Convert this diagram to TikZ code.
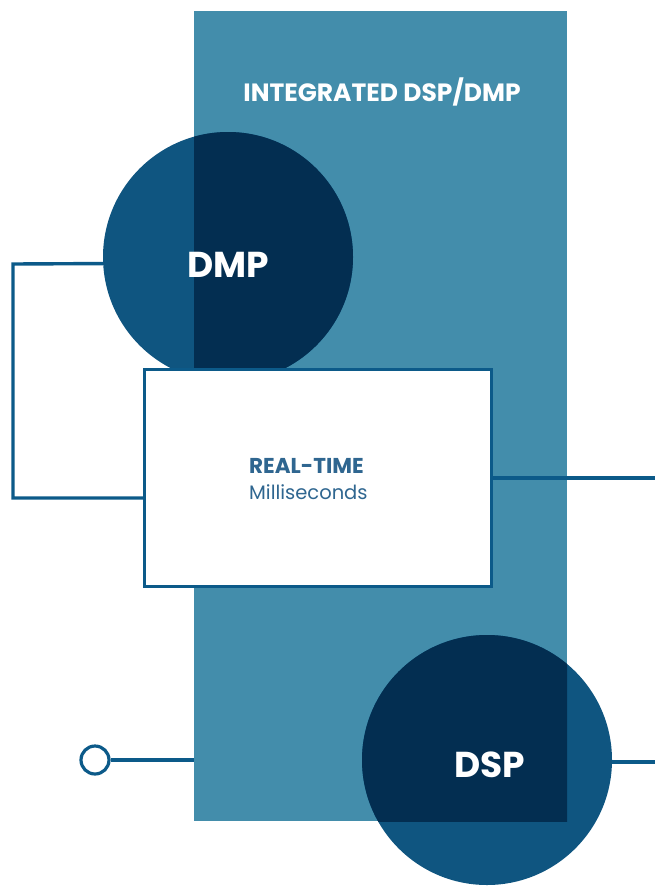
\documentclass[tikz,border=0pt]{standalone}
\usepackage{fontspec}
\setmainfont{Poppins}
\definecolor{band}{HTML}{438DAB}
\definecolor{navy}{HTML}{032E51}
\definecolor{midblue}{HTML}{0F5580}
\definecolor{linec}{HTML}{0C5A89}
\definecolor{boxtext}{HTML}{2F6690}
\tikzset{
  conn/.style={draw=linec, line width=3.4pt},
  bigcirc/.style={circle, inner sep=0pt, minimum size=250pt, fill=midblue},
  whitelabel/.style={text=white, font=\bfseries\fontsize{36}{40}\selectfont, inner sep=0pt},
}
\begin{document}
\begin{tikzpicture}[x=1pt,y=-1pt]
\useasboundingbox (0,0) rectangle (655,888);
% band
\node[rectangle, fill=band, inner sep=0pt, minimum width=373pt, minimum height=810pt] (band) at (380.5,416) {};
\node[text=white, font=\bfseries\fontsize{25}{29}\selectfont, inner sep=0pt] (title) at (382,92) {INTEGRATED DSP/DMP};
% circles
\node[bigcirc] (dmp) at (228,257) {};
\node[bigcirc] (dsp) at (487,760) {};
\begin{scope}
  \clip (194,11) rectangle (567,821);
  \fill[navy] (dmp.center) circle (125);
  \fill[navy] (dsp.center) circle (125);
\end{scope}
\node[whitelabel] (dmpl) at (228,265) {DMP};
\node[whitelabel] (dspl) at (490,765) {DSP};
% real-time box
\node[rectangle, draw=linec, line width=3.2pt, fill=white, minimum width=347pt, minimum height=217pt, inner sep=0pt] (box) at (318,478) {};
\node[text=boxtext, align=left, anchor=west, inner sep=0pt, font=\fontsize{19.5}{26}\selectfont] (rt) at (249,479) {{\bfseries\fontsize{21.5}{26}\selectfont REAL-TIME}\\Milliseconds};
% connectors
\coordinate (lc1) at (13,264);
\coordinate (lc2) at (13,498);
\coordinate (re1) at (655,478);
\coordinate (re2) at (655,762);
\draw[conn] (dmp.183) -- (lc1) -- (lc2) -- (box.west |- lc2);
\draw[conn] (box.east) -- (re1);
\draw[conn] (dsp.east |- re2) -- (re2);
\node[circle, draw=linec, line width=3.2pt, fill=white, minimum size=28pt, inner sep=0pt] (term) at (95,760) {};
\draw[conn] (term.east) -- (band.west |- term);
\end{tikzpicture}
\end{document}
